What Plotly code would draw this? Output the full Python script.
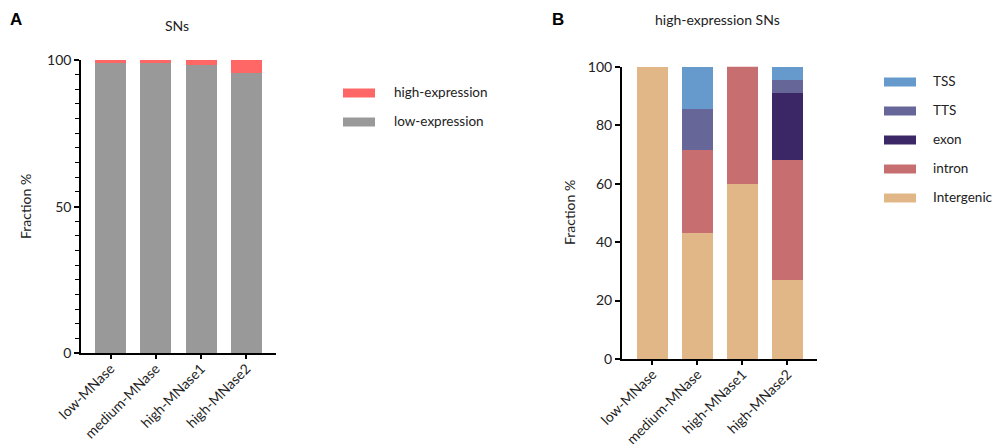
import plotly.graph_objects as go

# ---- data ----
samples = ["low-MNase", "medium-MNase", "high-MNase1", "high-MNase2"]

# Panel A: SNs fraction (%)
low_expression = [99.1, 98.9, 98.3, 95.6]
high_expression = [0.9, 1.1, 1.7, 4.4]

# Panel B: high-expression SNs by genomic feature (%)
intergenic = [100.0, 43.0, 60.0, 27.0]
intron = [0.0, 28.5, 40.2, 41.0]
exon = [0.0, 0.0, 0.0, 23.0]
tts = [0.0, 14.0, 0.0, 4.5]
tss = [0.0, 14.5, 0.0, 4.5]

a_series = [("low-expression", low_expression, "#999999"),
            ("high-expression", high_expression, "#FF6666")]
b_series = [("Intergenic", intergenic, "#E2B788"),
            ("intron", intron, "#C76E70"),
            ("exon", exon, "#3C2766"),
            ("TTS", tts, "#666699"),
            ("TSS", tss, "#6699CC")]

W, H = 994, 444
FONT = "Lato"
FS = 14
TXT = "#222222"

def px(x):
    return x / W

def py(y):
    return 1 - y / H

fig = go.Figure()
for name, vals, col in a_series:
    fig.add_trace(go.Bar(x=samples, y=vals, name=name, marker=dict(color=col, line=dict(width=0)),
                         width=0.69, xaxis="x", yaxis="y", showlegend=False))
for name, vals, col in b_series:
    fig.add_trace(go.Bar(x=samples, y=vals, name=name, marker=dict(color=col, line=dict(width=0)),
                         width=0.69, xaxis="x2", yaxis="y2", showlegend=False))

axis_common = dict(showline=True, linecolor="black", linewidth=1.5, showgrid=False, zeroline=False,
                   ticks="outside", tickcolor="black", tickwidth=1.5, automargin=False,
                   tickfont=dict(family=FONT, size=FS, color=TXT))

fig.update_layout(
    width=W, height=H, autosize=False,
    margin=dict(l=0, r=0, t=0, b=0, pad=0),
    paper_bgcolor="white", plot_bgcolor="white",
    barmode="stack",
    font=dict(family=FONT, size=FS, color=TXT),
    xaxis=dict(domain=[px(81), px(276)], range=[-0.651, 3.651], anchor="y",
               tickangle=-45, ticklen=4, ticklabelstandoff=-4, **axis_common),
    yaxis=dict(domain=[py(353.3), py(60)], range=[0, 100], anchor="x",
               tickvals=[0, 50, 100], ticklen=5,
               minor=dict(dtick=5, ticks="outside", ticklen=4, tickcolor="black", tickwidth=1.2),
               **axis_common),
    xaxis2=dict(domain=[px(621.7), px(817)], range=[-0.684, 3.656], anchor="y2",
                tickangle=-45, ticklen=4, ticklabelstandoff=-4, **axis_common),
    yaxis2=dict(domain=[py(359), py(66.7)], range=[0, 100], anchor="x2",
                tickvals=[0, 20, 40, 60, 80, 100], ticklen=5, **axis_common),
)

ann = []
shapes = []

def text(t, x, y, size=FS, family=FONT, color=TXT, xanchor="center", angle=0):
    ann.append(dict(text=t, x=px(x), y=py(y), xref="paper", yref="paper", showarrow=False,
                    xanchor=xanchor, yanchor="middle", textangle=angle,
                    font=dict(family=family, size=size, color=color)))

# panel labels and titles
text("<b>A</b>", 16, 20, size=17, family="Liberation Sans", color="black")
text("<b>B</b>", 558, 20, size=17, family="Liberation Sans", color="black")
text("SNs", 177, 26)
text("high-expression SNs", 717, 19)
text("Fraction %", 25, 207, angle=-90)
text("Fraction %", 569, 213, angle=-90)

# legends (top-down order = reversed stacking)
def legend(series, x0, x1, ytop, step, tx):
    for i, (name, _, col) in enumerate(reversed(series)):
        yc = ytop + i * step
        shapes.append(dict(type="rect", xref="paper", yref="paper",
                           x0=px(x0), x1=px(x1), y0=py(yc + 4.5), y1=py(yc - 4.5),
                           fillcolor=col, line=dict(width=0)))
        text(name, tx, yc - 1, size=13.5, xanchor="left")

legend(a_series, 343, 375, 93, 29, 392)
legend(b_series, 884, 916, 82, 29, 931)

fig.update_layout(annotations=ann, shapes=shapes)
fig.write_html("out.html")
